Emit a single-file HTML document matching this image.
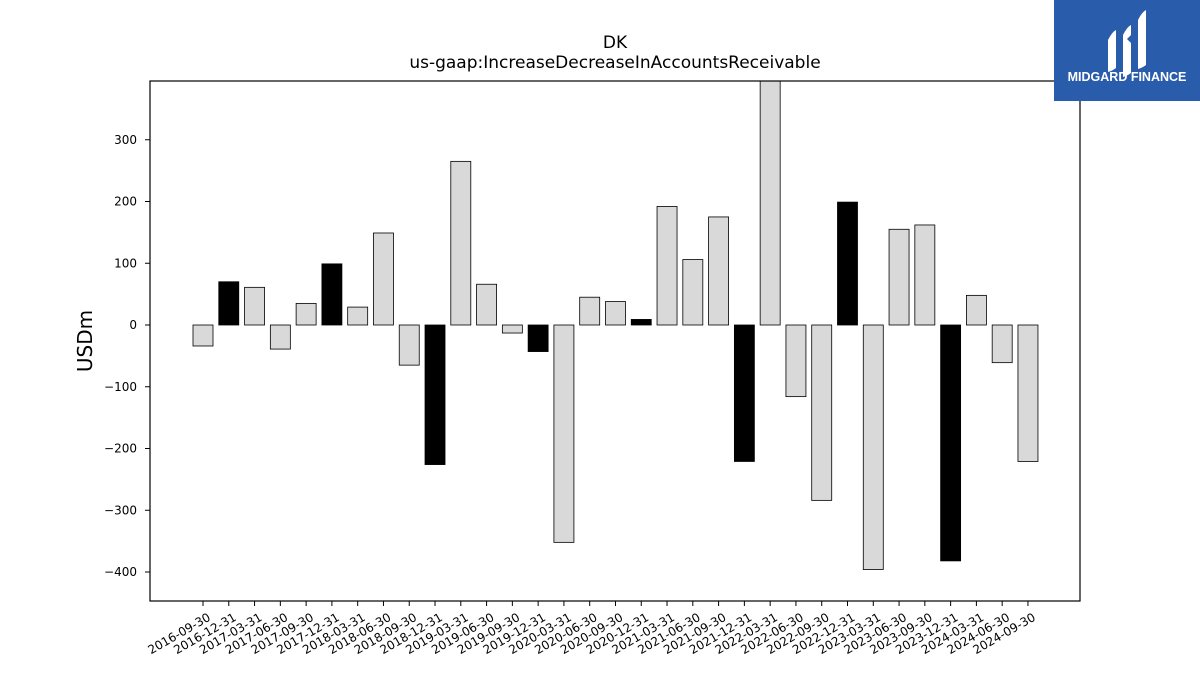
<!DOCTYPE html>
<html><head><meta charset="utf-8"><style>
body{margin:0;background:#fff;font-family:"Liberation Sans","DejaVu Sans",sans-serif;}
svg text{font-family:"DejaVu Sans","Liberation Sans",sans-serif;}
</style></head><body>
<svg id="chart" width="1200" height="675" xmlns="http://www.w3.org/2000/svg">
<text x="615" y="48" font-size="17" text-anchor="middle">DK</text>
<text x="615" y="68" font-size="17" text-anchor="middle">us-gaap:IncreaseDecreaseInAccountsReceivable</text>
<text transform="translate(92,341) rotate(-90)" font-size="20" text-anchor="middle">USDm</text>
<g id="bars"></g><g id="yticks"></g><g id="xticks"></g>
<rect x="150" y="81" width="930" height="520" fill="none" stroke="#000" stroke-width="1.2"/>
<g>
<rect x="1054" y="0" width="146" height="101" fill="#2a5cac"/>
<path d="M1108 40 q4 -8 8 -10 v38 q-4 3 -8 4 z M1123 35 q4 -8 8 -10 v10 l-4 4 l4 4 v30 q-4 3 -8 4 z M1138 20 q4 -8 8 -10 v55 q-4 3 -8 4 z" fill="#fff"/>
<text x="1127" y="81" font-size="12.5" font-weight="bold" fill="#fff" text-anchor="middle" style="font-family:'Liberation Sans',sans-serif">MIDGARD FINANCE</text>
</g>
</svg>
<script>
const categories=["2016-09-30","2016-12-31","2017-03-31","2017-06-30","2017-09-30","2017-12-31","2018-03-31","2018-06-30","2018-09-30","2018-12-31","2019-03-31","2019-06-30","2019-09-30","2019-12-31","2020-03-31","2020-06-30","2020-09-30","2020-12-31","2021-03-31","2021-06-30","2021-09-30","2021-12-31","2022-03-31","2022-06-30","2022-09-30","2022-12-31","2023-03-31","2023-06-30","2023-09-30","2023-12-31","2024-03-31","2024-06-30","2024-09-30"];
const values=[-34,70,61,-39,35,99,29,149,-65,-226,265,66,-13,-43,-352,45,38,9,192,106,175,-221,420,-116,-284,199,-396,155,162,-382,48,-61,-221];
const yTicks=[-400,-300,-200,-100,0,100,200,300];
(function(){
const NS="http://www.w3.org/2000/svg";
const y0=325,ppu=0.6175,plotTop=81,plotBot=601;
function y(v){return Math.max(plotTop,Math.min(plotBot,y0-v*ppu));}
function x(i){return 203+i*25.78;}
const bars=document.getElementById('bars'),yt=document.getElementById('yticks'),xt=document.getElementById('xticks');
values.forEach((v,i)=>{
 const r=document.createElementNS(NS,'rect');
 const a=y(v),b=y(0);
 r.setAttribute('x',x(i)-10);r.setAttribute('width',20);
 r.setAttribute('y',Math.min(a,b));r.setAttribute('height',Math.abs(a-b));
 r.setAttribute('fill',categories[i].endsWith('12-31')?'#000':'#d9d9d9');
 r.setAttribute('stroke','#000');r.setAttribute('stroke-width','0.8');
 
 
 bars.appendChild(r);
 const l=document.createElementNS(NS,'line');
 l.setAttribute('x1',x(i));l.setAttribute('x2',x(i));l.setAttribute('y1',601);l.setAttribute('y2',606);l.setAttribute('stroke','#000');
 xt.appendChild(l);
 const t=document.createElementNS(NS,'text');
 t.setAttribute('transform','translate('+(x(i)+4)+',612) rotate(-30)');
 t.setAttribute('text-anchor','end');t.setAttribute('font-size','12');t.setAttribute('dominant-baseline','hanging');
 t.textContent=categories[i];
 
 
 xt.appendChild(t);
});
yTicks.forEach(v=>{
 const l=document.createElementNS(NS,'line');
 l.setAttribute('x1',145);l.setAttribute('x2',150);l.setAttribute('y1',y(v));l.setAttribute('y2',y(v));l.setAttribute('stroke','#000');
 yt.appendChild(l);
 const t=document.createElementNS(NS,'text');
 t.setAttribute('x',137);t.setAttribute('y',y(v)+4);t.setAttribute('text-anchor','end');t.setAttribute('font-size','12');
 t.textContent=v<0?'\u2212'+(-v):String(v);
 
 
 yt.appendChild(t);
});
})();
</script>
</body></html>
